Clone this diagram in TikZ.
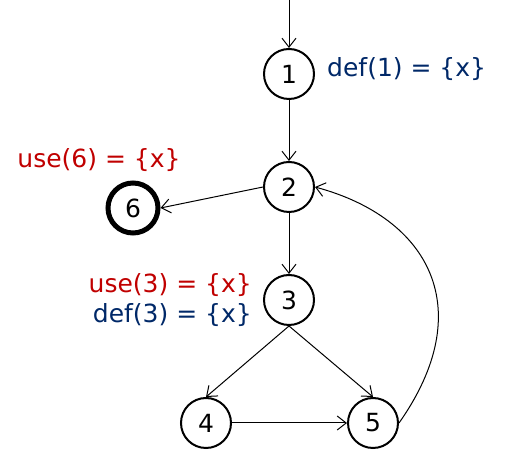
\documentclass[tikz,border=0pt]{standalone}
\usepackage{fontspec}
\setmainfont{DejaVu Sans}
\usetikzlibrary{arrows.meta}
\definecolor{usered}{RGB}{192,0,0}
\definecolor{defblue}{RGB}{0,40,104}

\begin{document}
\begin{tikzpicture}[x=50pt, y=50pt, font=\fontsize{25}{29}\selectfont,
    vertex/.style={circle, draw, line width=2, minimum size=50pt, inner sep=0},
    edge/.style={line width=1, -{Straight Barb[length=9pt, width=14pt]}},
    setlabel/.style={inner sep=0}]
    \useasboundingbox (0, 0) rectangle (10.12, 9.08);

    % nodes of the flow graph
    \node[vertex] (n1) at (5.78, 7.6) {1};
    \node[vertex] (n2) at (5.78, 5.34) {2};
    \node[vertex] (n3) at (5.78, 3.08) {3};
    \node[vertex] (n4) at (4.12, 0.62) {4};
    \node[vertex] (n5) at (7.46, 0.62) {5};
    \node[vertex, line width=5] (n6) at (2.66, 4.92) {6};
    \coordinate (entry) at (5.78, 9.08);

    % def / use sets
    \node[setlabel, anchor=base west, defblue] (d1) at (6.54, 7.54) {def(1) = \{x\}};
    \node[setlabel, anchor=base, usered] (u6) at (1.98, 5.72) {use(6) = \{x\}};
    \node[setlabel, anchor=base east, usered] (u3) at (5.04, 3.22) {use(3) = \{x\}};
    \node[setlabel, anchor=base east, defblue] (d3) at (5.04, 2.62) {def(3) = \{x\}};

    % edges
    \draw[edge] (entry) -- (n1.north);
    \draw[edge] (n1.south) -- (n2.north);
    \draw[edge] (n2.south) -- (n3.north);
    \draw[edge] (n2.west) -- (n6.east);
    \draw[edge] (n3.south) -- (n4.north);
    \draw[edge] (n3.south) -- (n5.north);
    \draw[edge] (n4.east) -- (n5.west);
    \draw[edge] (n5.east) .. controls +(1.6, 2.27) and +(2.3, -0.62) .. (n2.east);
\end{tikzpicture}
\end{document}
